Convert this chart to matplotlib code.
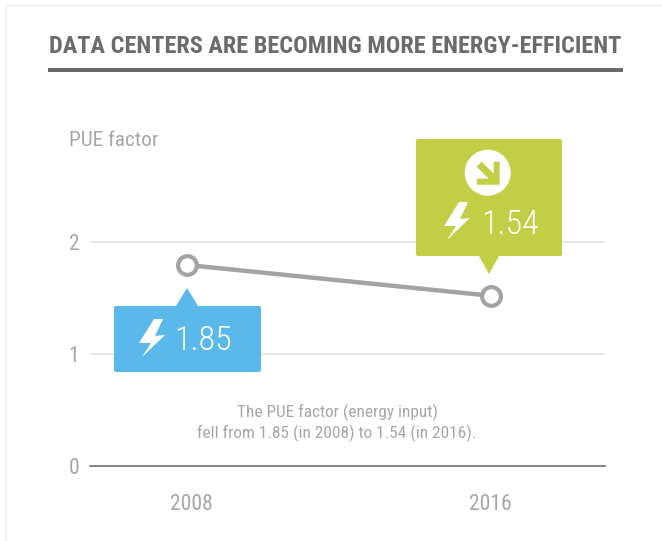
import matplotlib
matplotlib.use("Agg")
import matplotlib.pyplot as plt
from matplotlib.patches import Polygon, Circle, FancyBboxPatch

W, H = 662, 541
years = [2008, 2016]
pue_plotted = [1.795, 1.52]
callout_labels = ["1.85", "1.54"]
y_ticks = [0, 1, 2]
title = "DATA CENTERS ARE BECOMING MORE ENERGY-EFFICIENT"
y_title = "PUE factor"
note = ["The PUE factor (energy input)", "fell from 1.85 (in 2008) to 1.54 (in 2016)."]

GREY_TXT = "#a6a6a6"
DARK = "#6b6b6b"
BLUE = "#5ab8ea"
GREEN = "#c1ce46"
LINE = "#a3a3a3"

plt.rcParams["font.family"] = ["Roboto Condensed", "Archivo Narrow", "Liberation Sans", "DejaVu Sans"]

fig = plt.figure(figsize=(W / 100, H / 100), dpi=100, facecolor="white")

ov = fig.add_axes([0, 0, 1, 1], zorder=3)
ov.set_xlim(0, W)
ov.set_ylim(H, 0)
ov.axis("off")
ov.patch.set_alpha(0)

px_per_year = 38.0
xmin = 2008 - (187 - 90) / px_per_year
xmax = 2016 + (605 - 491) / px_per_year
ax_top, ax_bot = 130, 466
px_per_unit = 112.0
ax = fig.add_axes([90 / W, 1 - ax_bot / H, (605 - 90) / W, (ax_bot - ax_top) / H], zorder=2)
ax.set_xlim(xmin, xmax)
ax.set_ylim(0, (ax_bot - ax_top) / px_per_unit)
ax.patch.set_alpha(0)
for s in ["top", "left", "right"]:
    ax.spines[s].set_visible(False)
ax.spines["bottom"].set_color("#707070")
ax.spines["bottom"].set_linewidth(1.2)
ax.set_yticks(y_ticks[1:])
ax.set_yticklabels([])
ax.set_xticks([])
ax.tick_params(length=0)
ax.grid(axis="y", color="#e8e8e8", lw=1.5)
ax.set_axisbelow(True)
ax.plot(years, pue_plotted, color=LINE, lw=3.2, marker="o", ms=13.5, mfc="white", mec=LINE, mew=3.0,
        solid_capstyle="butt", zorder=3, clip_on=False)

for v, py in zip(y_ticks, [468, 357, 245]):
    ov.text(74, py, str(v), color=GREY_TXT, fontsize=15.5, ha="center", va="center")
for yr, px in zip(years, [191, 490]):
    ov.text(px, 504, str(yr), color=GREY_TXT, fontsize=15.5, ha="center", va="center")
ov.text(69, 141, y_title, color=GREY_TXT, fontsize=15.3, ha="left", va="center")
for line, py in zip(note, [412, 433]):
    ov.text(337, py, line, color=GREY_TXT, fontsize=12.4, ha="center", va="center")

ov.plot([5.5, 5.5, W], [H, 4.5, 4.5], color="#efefef", lw=1)
ov.text(49, 46.5, title, color=DARK, fontsize=17.5, fontweight="bold", ha="left", va="center")
ov.add_patch(Polygon([(48, 68), (623, 68), (623, 72), (48, 72)], color=DARK, lw=0))


def box(x0, y0, x1, y1, c):
    r = 2
    ov.add_patch(FancyBboxPatch((x0 + r, y0 + r), x1 - x0 - 2 * r, y1 - y0 - 2 * r,
                                boxstyle=f"round,pad={r},rounding_size={r}", fc=c, ec="none", zorder=4))


def bolt(x, y):
    pts = [(15, 0), (24, 0), (16, 17), (26, 16), (3, 38), (12, 24), (0, 24)]
    ov.add_patch(Polygon([(x + a, y + b) for a, b in pts], fc="white", ec="none", zorder=5))


box(114, 306, 261, 372, BLUE)
ov.add_patch(Polygon([(176, 306), (187, 288), (198, 306)], fc=BLUE, ec="none", zorder=4))
bolt(139, 319)
ov.text(174, 341, callout_labels[0], color="white", fontsize=24.5, fontweight="light", ha="left", va="center", zorder=5)

box(416, 139, 562, 256, GREEN)
ov.add_patch(Polygon([(479, 256), (489, 274), (499, 256)], fc=GREEN, ec="none", zorder=4))
cx, cy = 487.7, 172.7
ov.add_patch(Circle((cx, cy), 23, fc="white", ec="none", zorder=5))
arrow = [(-6, -11), (6, 1), (6, -11), (12, -11), (12, 12), (-11, 12), (-11, 6), (1, 6), (-11, -6)]
ov.add_patch(Polygon([(cx + a, cy + b) for a, b in arrow], fc=GREEN, ec="none", zorder=6))
bolt(444, 202)
ov.text(481, 225, callout_labels[1], color="white", fontsize=24.5, fontweight="light", ha="left", va="center", zorder=5)

fig.savefig("out.png", dpi=100, facecolor="white")
